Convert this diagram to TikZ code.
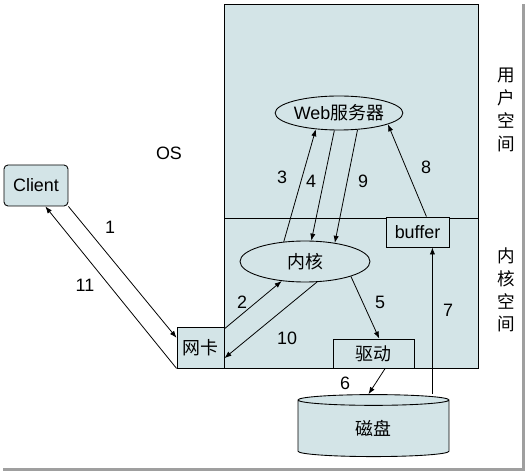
\documentclass[tikz,border=0pt]{standalone}
\usepackage{fontspec}
\setmainfont{Liberation Sans}
\newfontfamily\cjk{Noto Sans CJK SC}
\usetikzlibrary{arrows.meta,calc,shapes.geometric}
\definecolor{boxfill}{RGB}{211,228,231}
\tikzset{
    every node/.style = {
        font=\fontsize{10.2pt}{12pt}\selectfont,
        },
    space/.style = {
        draw,
        fill = boxfill,
        line width=0.5pt,
        },
    box/.style = {
        draw,
        fill = boxfill,
        line width=0.5pt,
        inner sep=0pt,
        },
    server/.style = {
        box,
        ellipse,
        },
    number/.style = {
        inner sep=1pt,
        },
    side text/.style = {
        align=center,
        font=\fontsize{10pt}{13pt}\selectfont\cjk,
        },
    frame shadow/.style = {
        draw=gray!75,
        line width=1.6pt,
        }
}

\begin{document}
\begin{tikzpicture}[x=0.02cm, y=-0.02cm, ->, >={Latex[length=4pt,width=3pt]}, line width=0.45pt]
            \useasboundingbox (0,0) rectangle (527,472);
            \path[frame shadow, -] (3,469.5) -- (523.5,469.5) -- (523.5,4);

            % user space and kernel space
            \path[space, -] (224,4) rectangle (478,218);
            \path[space, -] (224,218) rectangle (478,368);

            \node[server, minimum width=2.32cm, minimum height=0.68cm] (web) at (339,113) {Web{\cjk 服务器}};
            \node[server, minimum width=2.6cm, minimum height=0.82cm] (kernel) at (305,261.5) {\cjk 内核};
            \node[box, minimum width=1.26cm, minimum height=0.6cm] (buffer) at (417.5,232) {buffer};
            \node[box, minimum width=1.62cm, minimum height=0.58cm] (driver) at (373.5,353.5) {\cjk 驱动};
            \node[box, minimum width=0.94cm, minimum height=0.82cm] (nic) at (200.5,347.5) {\cjk 网卡};
            \node[box, rounded corners=0.08cm, minimum width=1.28cm, minimum height=0.82cm] (client) at (36,185.5) {Client};
            \node[box, cylinder, shape border rotate=90, aspect=0.3, minimum width=3.02cm, minimum height=1.24cm] (disk) at (373.5,428.5) {\cjk 磁盘};

            \node (os) at (169,153) {OS};
            \node[side text] (user) at (506,110) {用\\户\\空\\间};
            \node[side text] (kern) at (506,290) {内\\核\\空\\间};

            \path (client.south east) edge (nic.158);
            \path (nic.south west) edge (client.294);
            \path (nic.38) edge (kernel.220);
            \path (kernel.137) edge (web.215);
            \path (web.255) edge (kernel.73);
            \path (kernel.342) edge (driver.69);
            \path (driver.308) edge ($(disk.north)+(-5,0)$);
            \path (disk.north -| buffer.314) edge (buffer.314);
            \path (buffer.60) edge (web.347);
            \path (web.318) edge (kernel.32);
            \path (kernel.300) edge (nic.336);

            \node[number] (n1) at (110,227) {1};
            \node[number] (n2) at (242,302) {2};
            \node[number] (n3) at (282,177) {3};
            \node[number] (n4) at (311,181) {4};
            \node[number] (n5) at (380,302) {5};
            \node[number] (n6) at (345,383) {6};
            \node[number] (n7) at (448,310) {7};
            \node[number] (n8) at (426,167) {8};
            \node[number] (n9) at (363,181) {9};
            \node[number] (n10) at (287,338) {10};
            \node[number] (n11) at (85,285) {11};
        \end{tikzpicture}
\end{document}
